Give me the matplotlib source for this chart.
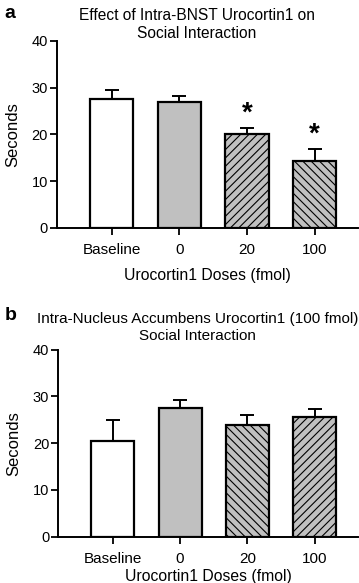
import matplotlib

matplotlib.use("Agg")
import matplotlib.pyplot as plt
import numpy as np

plt.rcParams["font.family"] = ["Liberation Sans", "DejaVu Sans"]
plt.rcParams["hatch.linewidth"] = 0.8

doses = ["Baseline", "0", "20", "100"]

# panel a: intra-BNST
bnst_mean = [27.6, 27.0, 20.0, 14.4]
bnst_sem = [1.8, 1.1, 1.3, 2.5]
bnst_sig = [False, False, True, True]

# panel b: intra-nucleus accumbens
nacc_mean = [20.5, 27.5, 23.9, 25.5]
nacc_sem = [4.5, 1.8, 2.1, 1.9]

FILLS = ["white", "#c0c0c0", "#c0c0c0", "#c0c0c0"]


def draw_panel(ax, means, sems, hatches, title, title_size, title_pad,
               letter, letter_y, xlabel_pad, sig=None):
    x = np.arange(len(doses))
    for i in range(len(doses)):
        ax.bar(x[i], means[i], width=0.64, color=FILLS[i], edgecolor="black",
               linewidth=1.6, hatch=hatches[i], zorder=2)
    ax.errorbar(x, means, yerr=[np.zeros(len(sems)), sems], fmt="none",
                ecolor="black", elinewidth=1.4, capsize=5, capthick=1.4, zorder=1)
    if sig is not None:
        for i, s in enumerate(sig):
            if s:
                ax.text(x[i], means[i] + sems[i] + 0.3, "*", ha="center",
                        va="bottom", fontsize=20, fontweight="bold")
    ax.set_xlim(-0.81, 3.64)
    ax.set_ylim(0, 40)
    ax.set_yticks([0, 10, 20, 30, 40])
    ax.set_xticks(x)
    ax.set_xticklabels(doses)
    ax.tick_params(axis="both", width=1.3, length=5)
    ax.tick_params(axis="y", labelsize=10.5, pad=1.5)
    ax.tick_params(axis="x", labelsize=11, pad=6)
    for side in ("top", "right"):
        ax.spines[side].set_visible(False)
    for side in ("left", "bottom"):
        ax.spines[side].set_linewidth(1.4)
    ax.set_ylabel("Seconds", fontsize=12, labelpad=8)
    ax.set_xlabel("Urocortin1 Doses (fmol)", fontsize=11.3, labelpad=xlabel_pad)
    ax.set_title(title, fontsize=title_size, pad=title_pad, linespacing=1.25,
                 x=0.465)
    fig.text(0.012, letter_y, letter, fontsize=14,
             fontweight="bold", ha="left", va="center")


fig = plt.figure(figsize=(3.59, 5.83), dpi=100)
ax_a = fig.add_axes([0.159, 0.609, 0.838, 0.321])
ax_b = fig.add_axes([0.162, 0.0794, 0.835, 0.321])

draw_panel(ax_a, bnst_mean, bnst_sem, [None, None, "////", "\\\\\\\\"],
           "Effect of Intra-BNST Urocortin1 on\nSocial Interaction", 11.2, 1,
           "a", 1 - 13 / 583, 8, bnst_sig)
draw_panel(ax_b, nacc_mean, nacc_sem, [None, None, "\\\\\\\\", "////"],
           "Intra-Nucleus Accumbens Urocortin1 (100 fmol)\nSocial Interaction",
           10.95, 7, "b", 1 - 315 / 583, 2.5)

fig.savefig("out.png", dpi=100)
